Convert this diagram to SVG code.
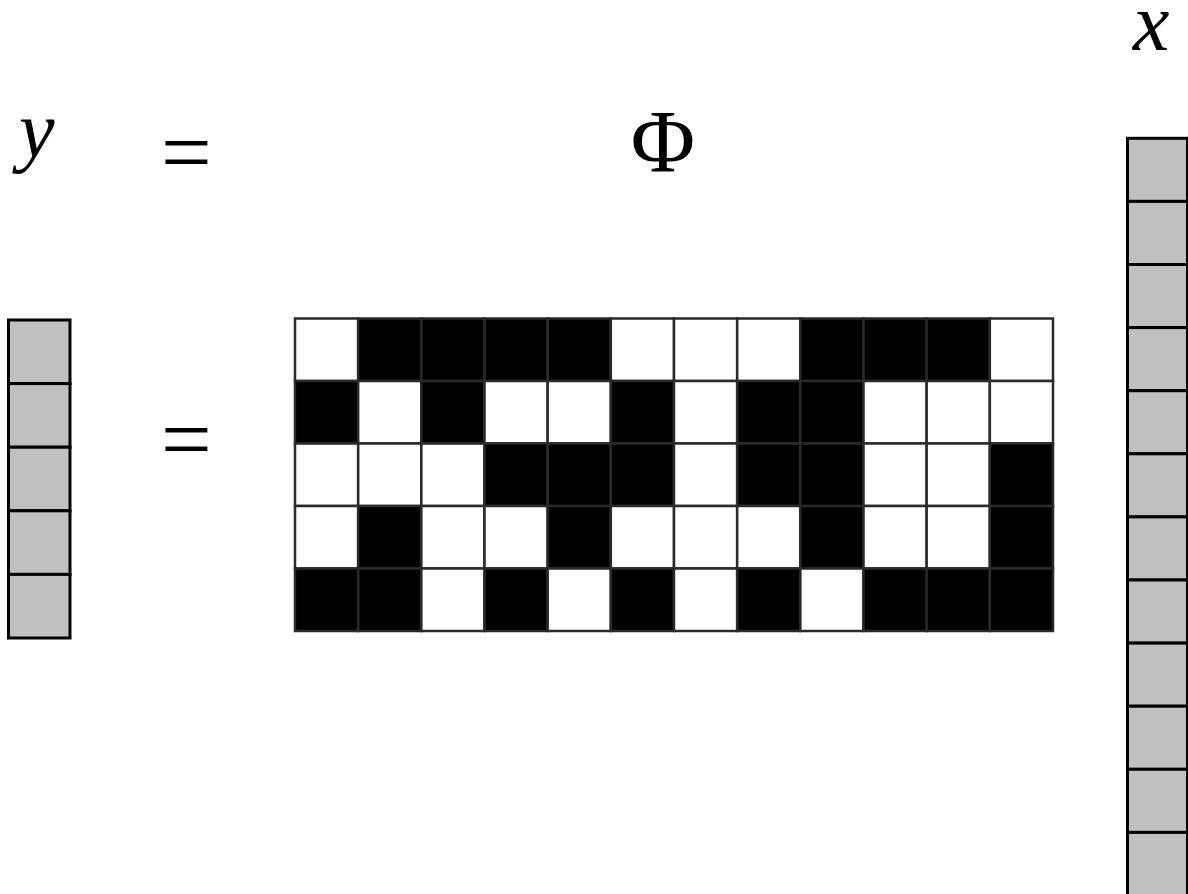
<svg xmlns="http://www.w3.org/2000/svg" width="1188" height="894" viewBox="0 0 1188 894">
<style>
.v{fill:#c0c0c0;stroke:#000;stroke-width:3}
.w{fill:#fff;stroke:#2a2a2a;stroke-width:2.5}
.b{fill:#000;stroke:#2a2a2a;stroke-width:2.5}
</style>
<rect width="1188" height="894" fill="#fff"/>
<g id="labels" font-family="'Liberation Serif', serif" fill="#000">
<text x="19" y="157" font-size="80" font-style="italic">y</text>
<text x="161" y="183" font-size="90">=</text>
<text x="663" y="171" font-size="88" text-anchor="middle">Φ</text>
<text x="1133" y="50" font-size="82" font-style="italic">x</text>
<text x="161" y="470" font-size="90">=</text>
</g>
<g id="vector-y">
<rect class="v" x="8.5" y="320" width="61.5" height="63.6"/>
<rect class="v" x="8.5" y="383.6" width="61.5" height="63.6"/>
<rect class="v" x="8.5" y="447.2" width="61.5" height="63.6"/>
<rect class="v" x="8.5" y="510.8" width="61.5" height="63.6"/>
<rect class="v" x="8.5" y="574.4" width="61.5" height="63.6"/>
</g>
<g id="matrix-phi">
<rect class="w" x="295" y="318.5" width="63.17" height="62.5"/>
<rect class="b" x="358.17" y="318.5" width="63.17" height="62.5"/>
<rect class="b" x="421.33" y="318.5" width="63.17" height="62.5"/>
<rect class="b" x="484.5" y="318.5" width="63.17" height="62.5"/>
<rect class="b" x="547.67" y="318.5" width="63.17" height="62.5"/>
<rect class="w" x="610.83" y="318.5" width="63.17" height="62.5"/>
<rect class="w" x="674" y="318.5" width="63.17" height="62.5"/>
<rect class="w" x="737.17" y="318.5" width="63.17" height="62.5"/>
<rect class="b" x="800.33" y="318.5" width="63.17" height="62.5"/>
<rect class="b" x="863.5" y="318.5" width="63.17" height="62.5"/>
<rect class="b" x="926.67" y="318.5" width="63.17" height="62.5"/>
<rect class="w" x="989.83" y="318.5" width="63.17" height="62.5"/>
<rect class="b" x="295" y="381" width="63.17" height="62.5"/>
<rect class="w" x="358.17" y="381" width="63.17" height="62.5"/>
<rect class="b" x="421.33" y="381" width="63.17" height="62.5"/>
<rect class="w" x="484.5" y="381" width="63.17" height="62.5"/>
<rect class="w" x="547.67" y="381" width="63.17" height="62.5"/>
<rect class="b" x="610.83" y="381" width="63.17" height="62.5"/>
<rect class="w" x="674" y="381" width="63.17" height="62.5"/>
<rect class="b" x="737.17" y="381" width="63.17" height="62.5"/>
<rect class="b" x="800.33" y="381" width="63.17" height="62.5"/>
<rect class="w" x="863.5" y="381" width="63.17" height="62.5"/>
<rect class="w" x="926.67" y="381" width="63.17" height="62.5"/>
<rect class="w" x="989.83" y="381" width="63.17" height="62.5"/>
<rect class="w" x="295" y="443.5" width="63.17" height="62.5"/>
<rect class="w" x="358.17" y="443.5" width="63.17" height="62.5"/>
<rect class="w" x="421.33" y="443.5" width="63.17" height="62.5"/>
<rect class="b" x="484.5" y="443.5" width="63.17" height="62.5"/>
<rect class="b" x="547.67" y="443.5" width="63.17" height="62.5"/>
<rect class="b" x="610.83" y="443.5" width="63.17" height="62.5"/>
<rect class="w" x="674" y="443.5" width="63.17" height="62.5"/>
<rect class="b" x="737.17" y="443.5" width="63.17" height="62.5"/>
<rect class="b" x="800.33" y="443.5" width="63.17" height="62.5"/>
<rect class="w" x="863.5" y="443.5" width="63.17" height="62.5"/>
<rect class="w" x="926.67" y="443.5" width="63.17" height="62.5"/>
<rect class="b" x="989.83" y="443.5" width="63.17" height="62.5"/>
<rect class="w" x="295" y="506" width="63.17" height="62.5"/>
<rect class="b" x="358.17" y="506" width="63.17" height="62.5"/>
<rect class="w" x="421.33" y="506" width="63.17" height="62.5"/>
<rect class="w" x="484.5" y="506" width="63.17" height="62.5"/>
<rect class="b" x="547.67" y="506" width="63.17" height="62.5"/>
<rect class="w" x="610.83" y="506" width="63.17" height="62.5"/>
<rect class="w" x="674" y="506" width="63.17" height="62.5"/>
<rect class="w" x="737.17" y="506" width="63.17" height="62.5"/>
<rect class="b" x="800.33" y="506" width="63.17" height="62.5"/>
<rect class="w" x="863.5" y="506" width="63.17" height="62.5"/>
<rect class="w" x="926.67" y="506" width="63.17" height="62.5"/>
<rect class="b" x="989.83" y="506" width="63.17" height="62.5"/>
<rect class="b" x="295" y="568.5" width="63.17" height="62.5"/>
<rect class="b" x="358.17" y="568.5" width="63.17" height="62.5"/>
<rect class="w" x="421.33" y="568.5" width="63.17" height="62.5"/>
<rect class="b" x="484.5" y="568.5" width="63.17" height="62.5"/>
<rect class="w" x="547.67" y="568.5" width="63.17" height="62.5"/>
<rect class="b" x="610.83" y="568.5" width="63.17" height="62.5"/>
<rect class="w" x="674" y="568.5" width="63.17" height="62.5"/>
<rect class="b" x="737.17" y="568.5" width="63.17" height="62.5"/>
<rect class="w" x="800.33" y="568.5" width="63.17" height="62.5"/>
<rect class="b" x="863.5" y="568.5" width="63.17" height="62.5"/>
<rect class="b" x="926.67" y="568.5" width="63.17" height="62.5"/>
<rect class="b" x="989.83" y="568.5" width="63.17" height="62.5"/>
</g>
<g id="vector-x">
<rect class="v" x="1127.5" y="138.3" width="60" height="63.1"/>
<rect class="v" x="1127.5" y="201.4" width="60" height="63.1"/>
<rect class="v" x="1127.5" y="264.5" width="60" height="63.1"/>
<rect class="v" x="1127.5" y="327.6" width="60" height="63.1"/>
<rect class="v" x="1127.5" y="390.7" width="60" height="63.1"/>
<rect class="v" x="1127.5" y="453.8" width="60" height="63.1"/>
<rect class="v" x="1127.5" y="516.9" width="60" height="63.1"/>
<rect class="v" x="1127.5" y="580" width="60" height="63.1"/>
<rect class="v" x="1127.5" y="643.1" width="60" height="63.1"/>
<rect class="v" x="1127.5" y="706.2" width="60" height="63.1"/>
<rect class="v" x="1127.5" y="769.3" width="60" height="63.1"/>
<rect class="v" x="1127.5" y="832.4" width="60" height="63.1"/>
</g>
</svg>
